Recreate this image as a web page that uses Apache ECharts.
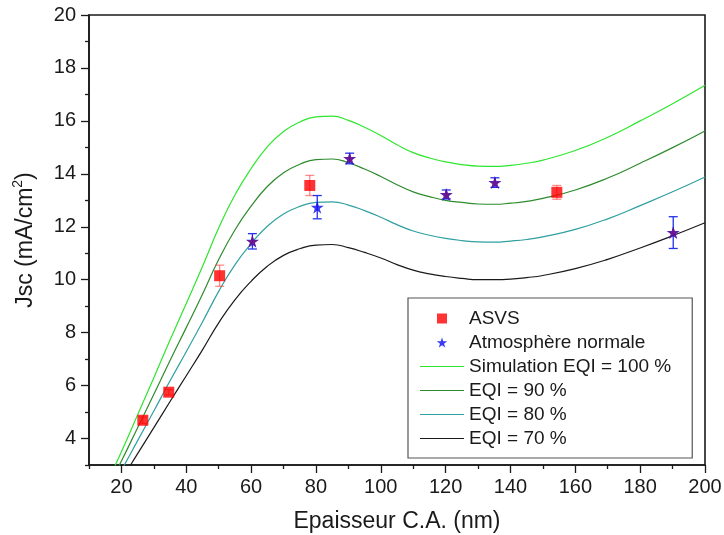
<!DOCTYPE html>
<html>
<head>
<meta charset="utf-8">
<script src="https://cdn.jsdelivr.net/npm/echarts@6/dist/echarts.min.js"></script>
<style>html,body{margin:0;padding:0;background:#fff}#c{width:724px;height:535px}</style>
</head>
<body>
<div id="c"></div>
<script>
// ---- data ----
const simX = [16, 20, 25, 30, 35, 40, 45, 50, 55, 60, 65, 70, 75, 80, 85, 90, 95, 100, 105, 110, 115, 120, 125, 130, 135, 140, 145, 150, 160, 170, 180, 190, 200];
const eqi100 = [2.45, 3.5, 4.9, 6.3, 7.72, 9.1, 10.5, 11.95, 13.2, 14.2, 15.02, 15.6, 15.96, 16.15, 16.18, 16.02, 15.76, 15.45, 15.1, 14.8, 14.6, 14.45, 14.35, 14.29, 14.28, 14.32, 14.4, 14.52, 14.88, 15.38, 16.0, 16.65, 17.35];
const eqi90 = [2.2, 3.15, 4.41, 5.67, 6.95, 8.19, 9.45, 10.76, 11.88, 12.78, 13.52, 14.04, 14.36, 14.54, 14.56, 14.42, 14.18, 13.9, 13.59, 13.32, 13.14, 13.0, 12.92, 12.86, 12.85, 12.89, 12.96, 13.07, 13.39, 13.84, 14.4, 14.99, 15.62];
const eqi80 = [1.96, 2.8, 3.92, 5.04, 6.18, 7.28, 8.4, 9.56, 10.56, 11.36, 12.02, 12.48, 12.77, 12.92, 12.94, 12.82, 12.61, 12.36, 12.08, 11.84, 11.68, 11.56, 11.48, 11.43, 11.42, 11.46, 11.52, 11.62, 11.9, 12.3, 12.8, 13.32, 13.88];
const eqi70 = [1.72, 2.45, 3.43, 4.41, 5.4, 6.37, 7.35, 8.37, 9.24, 9.94, 10.51, 10.92, 11.17, 11.31, 11.33, 11.21, 11.03, 10.82, 10.57, 10.36, 10.22, 10.12, 10.05, 10.0, 10.0, 10.02, 10.08, 10.16, 10.42, 10.77, 11.2, 11.66, 12.15];

const asvsX = [26.6, 34.6, 50.3, 78.1, 154.3];
const asvsY = [4.69, 5.75, 10.15, 13.56, 13.3];
const asvsErr = [0.12, 0.1, 0.4, 0.38, 0.26];

const atmX = [60.4, 80.4, 90.4, 120.2, 135.2, 190.2];
const atmY = [11.45, 12.74, 14.58, 13.22, 13.67, 11.78];
const atmErr = [0.29, 0.44, 0.2, 0.17, 0.18, 0.6];

const overX = [60.4, 90.4, 120.2, 135.2, 190.2];
const overY = [11.45, 14.58, 13.22, 13.67, 11.78];

const xMajor = [20, 40, 60, 80, 100, 120, 140, 160, 180, 200];
const xMinor = [10, 30, 50, 70, 90, 110, 130, 150, 170, 190];
const yMajor = [4, 6, 8, 10, 12, 14, 16, 18, 20];
const yMinor = [3, 5, 7, 9, 11, 13, 15, 17, 19];

const legendNames = ['ASVS', 'Atmosphère normale', 'Simulation EQI = 100 %', 'EQI = 90 %', 'EQI = 80 %', 'EQI = 70 %'];

// ---- chart ----
const STAR = 'path://M50,0 L61.2,34.5 L97.6,34.5 L68.2,55.9 L79.4,90.5 L50,69.1 L20.6,90.5 L31.8,55.9 L2.4,34.5 L38.8,34.5 Z';
const SQUARE = 'path://M0,0 L10,0 L10,10 L0,10 Z';
const HLINE = 'path://M0,0 L100,0 L100,2.6 L0,2.6 Z';
const FONT = 'Liberation Sans, Arial, sans-serif';
const TXT = '#1a1a1a';
const colors = { c100: '#2ee62e', c90: '#2e8b2e', c80: '#30a0a0', c70: '#1a1a1a' };
const zip = (a, b) => a.map((v, i) => [v, b[i]]);
const errData = (xs, ys, es) => xs.map((v, i) => [v, ys[i] - es[i], ys[i] + es[i]]);

function errRender(color) {
  return function (params, api) {
    const x = api.value(0), lo = api.value(1), hi = api.value(2);
    const a = api.coord([x, lo]), b = api.coord([x, hi]);
    const w = 4.5;
    const st = { stroke: color, lineWidth: 1.3 };
    return {
      type: 'group', children: [
        { type: 'line', shape: { x1: a[0], y1: a[1], x2: b[0], y2: b[1] }, style: st },
        { type: 'line', shape: { x1: a[0] - w, y1: a[1], x2: a[0] + w, y2: a[1] }, style: st },
        { type: 'line', shape: { x1: b[0] - w, y1: b[1], x2: b[0] + w, y2: b[1] }, style: st }
      ]
    };
  };
}

const chart = echarts.init(document.getElementById('c'), null, { renderer: 'canvas' });
const axisCol = '#1a1a1a';
function lineSeries(name, data, color) {
  return { name, type: 'line', data: zip(simX, data), smooth: true, showSymbol: false, symbol: 'none',
    lineStyle: { color, width: 1.2 }, itemStyle: { color }, z: 2, clip: true };
}
chart.setOption({
  animation: false,
  textStyle: { fontFamily: FONT },
  grid: { left: 89, right: 19, top: 15, bottom: 70, containLabel: false, outerBoundsMode: 'none',
    show: true, borderColor: axisCol, borderWidth: 1.6, backgroundColor: 'transparent' },
  xAxis: [{
    type: 'value', min: 10, max: 200, interval: 10,
    name: 'Epaisseur C.A. (nm)', nameLocation: 'middle', nameGap: 45,
    nameTextStyle: { fontSize: 23, color: TXT, fontFamily: FONT },
    axisLine: { show: true, lineStyle: { color: axisCol, width: 1.6 } },
    axisTick: { show: true, length: 8, customValues: xMajor, lineStyle: { color: axisCol, width: 1.3 } },
    axisLabel: { customValues: xMajor, fontSize: 20, color: TXT, margin: 12, fontFamily: FONT },
    splitLine: { show: false }
  }, {
    type: 'value', min: 10, max: 200, interval: 10, position: 'bottom', gridIndex: 0,
    axisLine: { show: false },
    axisTick: { show: true, length: 4, customValues: xMinor, lineStyle: { color: axisCol, width: 1.3 } },
    axisLabel: { show: false }, splitLine: { show: false }
  }],
  yAxis: [{
    type: 'value', min: 3, max: 20, interval: 1,
    name: 'Jsc (mA/cm{sup|2})', nameLocation: 'middle', nameGap: 48, nameRotate: 90,
    nameTextStyle: { fontSize: 23, color: TXT, fontFamily: FONT,
      rich: { sup: { fontSize: 14, color: TXT, fontFamily: FONT, verticalAlign: 'top', lineHeight: 30 } } },
    axisLine: { show: true, lineStyle: { color: axisCol, width: 1.6 } },
    axisTick: { show: true, length: 8, customValues: yMajor, lineStyle: { color: axisCol, width: 1.3 } },
    axisLabel: { customValues: yMajor, fontSize: 20, color: TXT, margin: 13, fontFamily: FONT },
    splitLine: { show: false }
  }, {
    type: 'value', min: 3, max: 20, interval: 1, position: 'left',
    axisLine: { show: false },
    axisTick: { show: true, length: 4, customValues: yMinor, lineStyle: { color: axisCol, width: 1.3 } },
    axisLabel: { show: false }, splitLine: { show: false }
  }],
  legend: {
    data: [
      { name: legendNames[0], icon: SQUARE, itemStyle: { color: '#ff0000' } },
      { name: legendNames[1], icon: STAR, itemStyle: { color: '#0a0af0' } },
      { name: legendNames[2], icon: HLINE, itemStyle: { color: colors.c100 } },
      { name: legendNames[3], icon: HLINE, itemStyle: { color: colors.c90 } },
      { name: legendNames[4], icon: HLINE, itemStyle: { color: colors.c80 } },
      { name: legendNames[5], icon: HLINE, itemStyle: { color: colors.c70 } }
    ],
    orient: 'vertical', left: 408, top: 298,
    itemWidth: 44, itemHeight: 10, itemGap: 5,
    padding: [11, 21, 10, 12],
    borderColor: '#555', borderWidth: 1.2, backgroundColor: '#fff',
    textStyle: { fontSize: 19, color: TXT, fontFamily: FONT },
    selectedMode: false
  },
  series: [
    lineSeries('Simulation EQI = 100 %', eqi100, colors.c100),
    lineSeries('EQI = 90 %', eqi90, colors.c90),
    lineSeries('EQI = 80 %', eqi80, colors.c80),
    lineSeries('EQI = 70 %', eqi70, colors.c70),
    { name: 'errA', type: 'custom', renderItem: errRender('rgba(255,60,60,0.6)'), data: errData(asvsX, asvsY, asvsErr), z: 3, encode: { x: 0, y: [1, 2] } },
    { name: 'errB', type: 'custom', renderItem: errRender('#2233ee'), data: errData(atmX, atmY, atmErr), z: 3, encode: { x: 0, y: [1, 2] } },
    { name: 'ASVS', type: 'scatter', data: zip(asvsX, asvsY), symbol: 'rect', symbolSize: 11, itemStyle: { color: '#ff0000' }, z: 4 },
    { name: 'Atmosphère normale', type: 'scatter', data: zip(atmX, atmY), symbol: STAR, symbolSize: 13, itemStyle: { color: '#0a0af0' }, z: 4 },
    { name: 'overlay', type: 'scatter', data: zip(overX, overY), symbol: STAR, symbolSize: 12, itemStyle: { color: '#7a137a' }, z: 5 }
  ]
});
</script>
</body>
</html>
